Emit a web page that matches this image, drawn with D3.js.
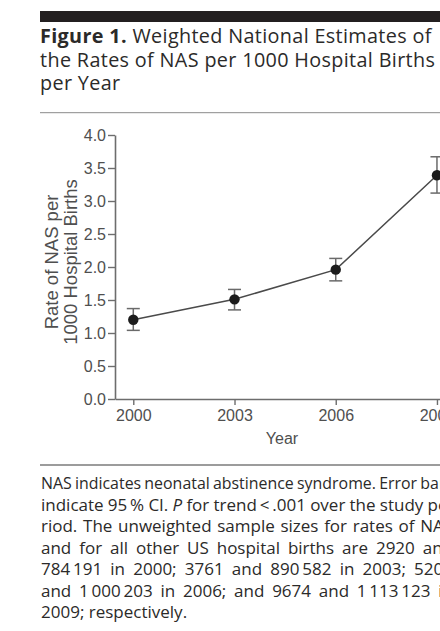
<!DOCTYPE html>
<html>
<head>
<meta charset="utf-8">
<script src="https://cdn.jsdelivr.net/npm/d3@7"></script>
<style>
  html, body { margin: 0; padding: 0; background: #fff; }
  svg { display: block; }
</style>
</head>
<body>
<svg id="fig" width="440" height="631"></svg>
<script>
// NAS rate per 1000 hospital births, with 95% confidence limits
const years = [2000, 2003, 2006, 2009];
const rates = [1.20, 1.51, 1.96, 3.39];
const ciLow = [1.04, 1.35, 1.79, 3.12];
const ciHigh = [1.37, 1.66, 2.13, 3.67];
const yTickValues = [0, 0.5, 1.0, 1.5, 2.0, 2.5, 3.0, 3.5, 4.0];

const titleLines = [
  [{ t: "Figure 1.", bold: true }, { t: " Weighted National Estimates of" }],
  [{ t: "the Rates of NAS per 1000 Hospital Births" }],
  [{ t: "per Year" }]
];

// Footnote, one entry per printed line; *word* is set in italics
const noteLines = [
  "NAS indicates neonatal abstinence syndrome. Error bars",
  "indicate 95\u2009% CI. *P* for trend\u2009<\u2009.001 over the study pe-",
  "riod. The unweighted sample sizes for rates of NAS",
  "and for all other US hospital births are 2920 and",
  "784\u2009191 in 2000; 3761 and 890\u2009582 in 2003; 5206",
  "and 1\u2009000\u2009203 in 2006; and 9674 and 1\u2009113\u2009123 in",
  "2009; respectively."
];

const svg = d3.select("#fig");
const ink = "#2b2a29";

// Heading band and title
svg.append("rect").attr("x", 40).attr("y", 11).attr("width", 420).attr("height", 11).attr("fill", "#231f20");

const titleG = svg.append("g")
  .attr("font-family", "'Open Sans', sans-serif")
  .attr("font-size", 19.8)
  .attr("letter-spacing", 0.35)
  .attr("fill", ink);
titleLines.forEach((line, i) => {
  const t = titleG.append("text").attr("x", 40).attr("y", 43 + i * 23.5);
  line.forEach(p => t.append("tspan").attr("font-weight", p.bold ? 700 : 400).text(p.t));
});
svg.append("line").attr("x1", 40).attr("x2", 460).attr("y1", 112.7).attr("y2", 112.7)
  .attr("stroke", "#8a8a8a").attr("stroke-width", 1);

// Plot
const x = d3.scaleLinear().domain([1999.458, 2010]).range([115, 470.7]);
const y = d3.scaleLinear().domain([0, 4]).range([399, 135]);
const axisColor = "#6d6d6d";
const labelColor = "#4f4f4f";

const xAxis = svg.append("g")
  .attr("transform", `translate(0,${y(0)})`)
  .call(d3.axisBottom(x).tickValues(years).tickFormat(d3.format("d")).tickSize(6).tickSizeOuter(0).tickPadding(5));
const yAxis = svg.append("g")
  .attr("transform", `translate(${x.range()[0]},0)`)
  .call(d3.axisLeft(y).tickValues(yTickValues).tickFormat(d3.format(".1f")).tickSize(7).tickSizeOuter(0).tickPadding(2));

[xAxis, yAxis].forEach(a => {
  a.attr("font-family", "'Liberation Sans', Arial, sans-serif").attr("font-size", 16);
  a.select(".domain").attr("stroke", axisColor).attr("stroke-width", 1.6);
  a.selectAll(".tick line").attr("stroke", axisColor).attr("stroke-width", 1.4);
  a.selectAll(".tick text").attr("fill", labelColor);
});

svg.append("text")
  .attr("x", 282).attr("y", 444)
  .attr("text-anchor", "middle")
  .attr("font-family", "'Liberation Sans', Arial, sans-serif")
  .attr("font-size", 16).attr("fill", labelColor)
  .text("Year");

const yTitle = svg.append("g")
  .attr("font-family", "'Liberation Sans', Arial, sans-serif")
  .attr("font-size", 18.5).attr("fill", labelColor)
  .attr("text-anchor", "middle");
["Rate of NAS per", "1000 Hospital Births"].forEach((s, i) => {
  yTitle.append("text")
    .attr("transform", `translate(${58 + i * 19},262) rotate(-90)`)
    .text(s);
});

const pts = years.map((yr, i) => ({ yr, v: rates[i], lo: ciLow[i], hi: ciHigh[i] }));

svg.append("path")
  .datum(pts)
  .attr("fill", "none")
  .attr("stroke", "#4a4a4a")
  .attr("stroke-width", 1.5)
  .attr("d", d3.line().x(d => x(d.yr)).y(d => y(d.v)));

const capHalf = 6.5;
const bars = svg.append("g").attr("stroke", "#6a6a6a").attr("stroke-width", 1.5);
pts.forEach(d => {
  bars.append("line").attr("x1", x(d.yr)).attr("x2", x(d.yr)).attr("y1", y(d.lo)).attr("y2", y(d.hi));
  bars.append("line").attr("x1", x(d.yr) - capHalf).attr("x2", x(d.yr) + capHalf).attr("y1", y(d.hi)).attr("y2", y(d.hi));
  bars.append("line").attr("x1", x(d.yr) - capHalf).attr("x2", x(d.yr) + capHalf).attr("y1", y(d.lo)).attr("y2", y(d.lo));
});

svg.append("g").selectAll("circle").data(pts).join("circle")
  .attr("cx", d => x(d.yr)).attr("cy", d => y(d.v)).attr("r", 5.2)
  .attr("fill", "#1c1c1c");

// Footnote
svg.append("line").attr("x1", 40).attr("x2", 460).attr("y1", 465).attr("y2", 465)
  .attr("stroke", "#3a3a3a").attr("stroke-width", 1.2);

const noteG = svg.append("g")
  .attr("font-family", "'Open Sans', sans-serif")
  .attr("font-size", 17)
  .attr("fill", ink);

const colLeft = 41, colWidth = 412, lineGap = 21.5, firstBase = 489;

function setLine(words, baseY, justify) {
  const nodes = words.map(w => {
    const italic = /^\*.*\*$/.test(w);
    return noteG.append("text")
      .attr("y", baseY)
      .attr("font-style", italic ? "italic" : "normal")
      .text(italic ? w.slice(1, -1) : w);
  });
  const widths = nodes.map(n => n.node().getComputedTextLength());
  const sum = d3.sum(widths);
  const spaceW = 4.4;
  let gap = spaceW, scale = 1;
  if (justify && words.length > 1) {
    gap = (colWidth - sum) / (words.length - 1);
    const minGap = 3.2;
    if (gap < minGap) {
      gap = minGap;
      scale = (colWidth - minGap * (words.length - 1)) / sum;
    }
  }
  let cx = colLeft;
  nodes.forEach((n, i) => {
    const w = widths[i] * scale;
    n.attr("x", cx);
    if (scale !== 1) n.attr("textLength", w).attr("lengthAdjust", "spacingAndGlyphs");
    cx += w + gap;
  });
}

noteLines.forEach((line, i) => {
  setLine(line.split(" "), firstBase + i * lineGap, i < noteLines.length - 1);
});
</script>
</body>
</html>
